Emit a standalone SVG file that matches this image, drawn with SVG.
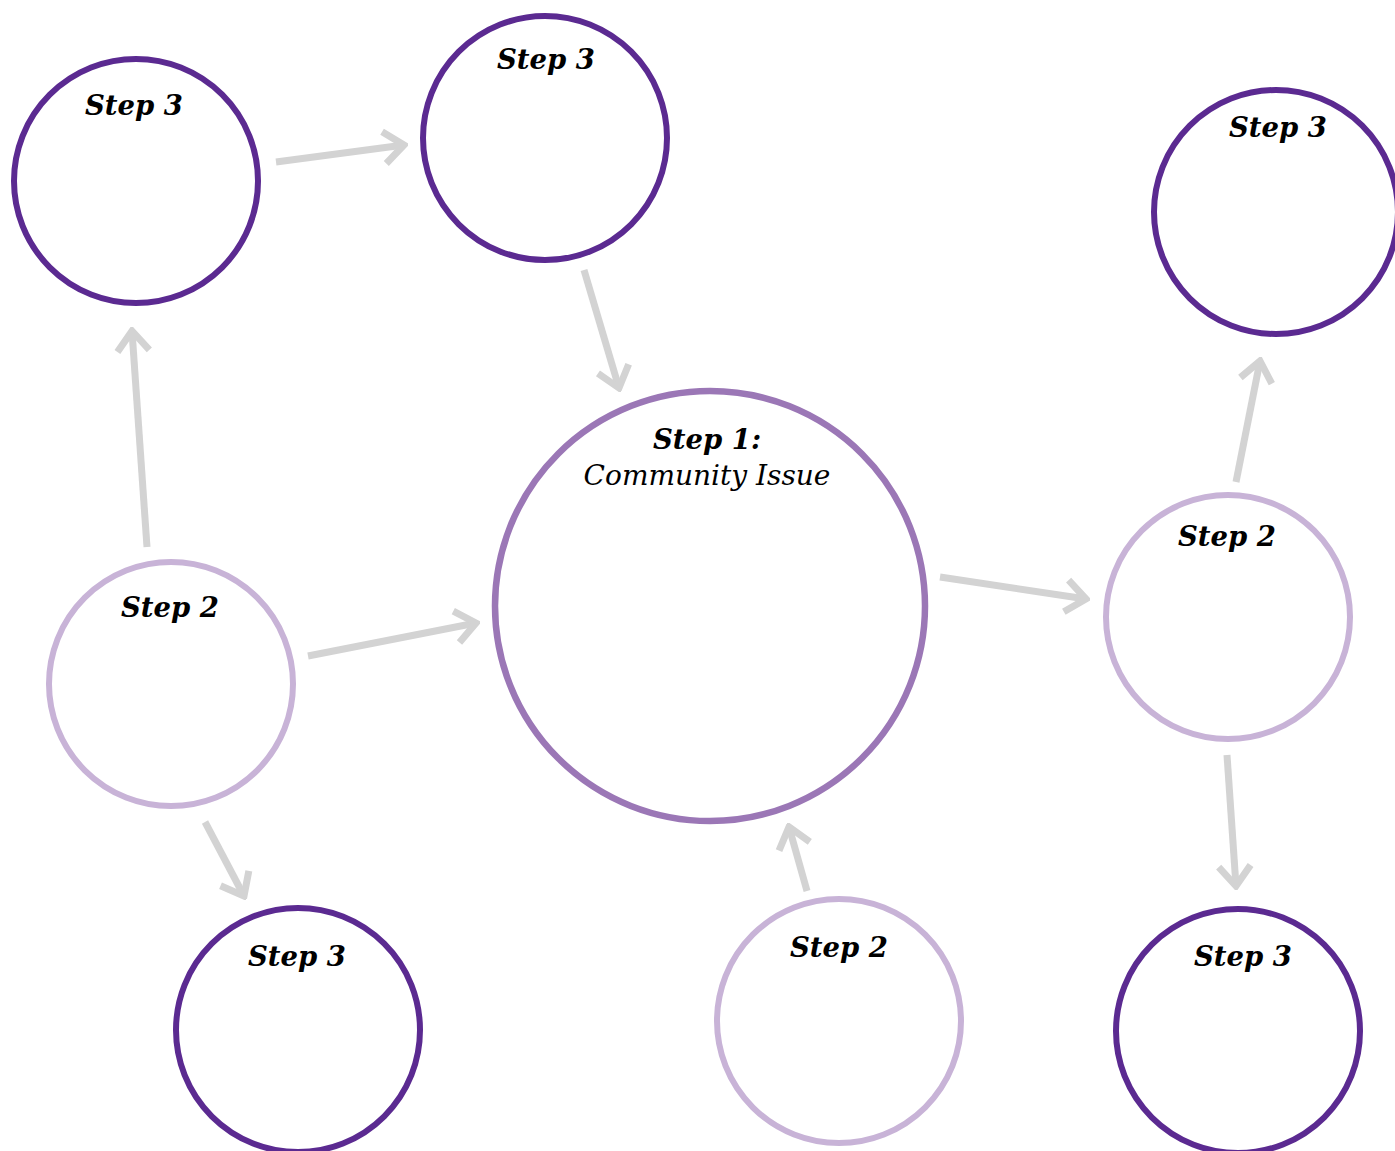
<svg xmlns="http://www.w3.org/2000/svg" width="1395" height="1151" viewBox="0 0 1395 1151">
<style>
.s3{fill:none;stroke:#5b2a91;stroke-width:6}
.s2{fill:none;stroke:#c8b3d7;stroke-width:6}
.s1{fill:none;stroke:#9b77b6;stroke-width:6.5}
.lab{font-family:"DejaVu Serif","Liberation Serif",serif;font-style:italic;font-weight:bold;font-size:27.5px;fill:#000;text-anchor:middle}
.lab2{font-family:"DejaVu Serif","Liberation Serif",serif;font-style:italic;font-size:28px;fill:#000;text-anchor:middle}
.arr{stroke:#d3d3d3;stroke-width:7;fill:none;marker-end:url(#ah)}
</style>
<defs>
<marker id="ah" markerUnits="userSpaceOnUse" viewBox="-26 -20 30 40" refX="0" refY="0" markerWidth="30" markerHeight="40" orient="auto">
<polyline points="-20,-16 0,0 -20,16" fill="none" stroke="#d3d3d3" stroke-width="7"/>
</marker>
</defs>
<rect width="1395" height="1151" fill="#fff"/>
<g id="connectors">
<line class="arr" x1="276" y1="162" x2="404" y2="145"/>
<line class="arr" x1="584" y1="270" x2="619" y2="388"/>
<line class="arr" x1="147" y1="547" x2="132" y2="331"/>
<line class="arr" x1="308" y1="656" x2="476" y2="623"/>
<line class="arr" x1="205" y1="822" x2="244" y2="896"/>
<line class="arr" x1="940" y1="577" x2="1086" y2="599"/>
<line class="arr" x1="807" y1="891" x2="789" y2="827"/>
<line class="arr" x1="1236" y1="482" x2="1260" y2="361"/>
<line class="arr" x1="1227" y1="755" x2="1236" y2="886"/>
</g>
<g id="step1">
<circle class="s1" cx="710" cy="606" r="215"/>
<text class="lab" x="707" y="449">Step 1:</text>
<text class="lab2" x="707" y="485">Community Issue</text>
</g>
<g id="step3-topleft">
<circle class="s3" cx="136" cy="181" r="122"/>
<text class="lab" x="134" y="115">Step 3</text>
</g>
<g id="step3-top">
<circle class="s3" cx="545" cy="138" r="122"/>
<text class="lab" x="546" y="69">Step 3</text>
</g>
<g id="step3-topright">
<circle class="s3" cx="1276" cy="212" r="122"/>
<text class="lab" x="1278" y="137">Step 3</text>
</g>
<g id="step2-left">
<circle class="s2" cx="171" cy="684" r="122"/>
<text class="lab" x="170" y="617">Step 2</text>
</g>
<g id="step2-right">
<circle class="s2" cx="1228" cy="617" r="122"/>
<text class="lab" x="1227" y="546">Step 2</text>
</g>
<g id="step2-bottom">
<circle class="s2" cx="839" cy="1021" r="122"/>
<text class="lab" x="839" y="957">Step 2</text>
</g>
<g id="step3-bottomleft">
<circle class="s3" cx="298" cy="1030" r="122"/>
<text class="lab" x="297" y="966">Step 3</text>
</g>
<g id="step3-bottomright">
<circle class="s3" cx="1238" cy="1031" r="122"/>
<text class="lab" x="1243" y="966">Step 3</text>
</g>
</svg>
